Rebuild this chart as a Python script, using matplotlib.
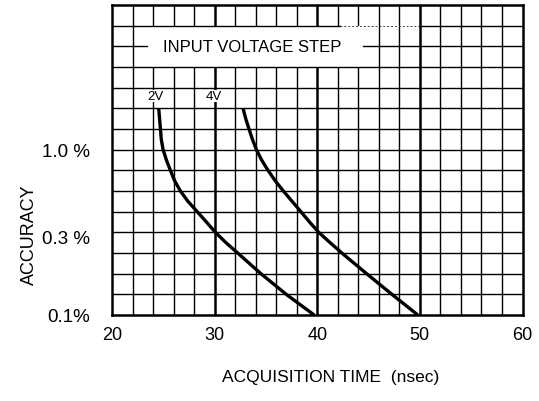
import matplotlib
matplotlib.use("Agg")
import matplotlib.pyplot as plt
from matplotlib.patches import Rectangle

plt.rcParams['font.family'] = ['Liberation Sans', 'DejaVu Sans']

# Data (acquisition time in nsec, accuracy in %)
time_2v = [24.55, 24.72, 24.8, 24.98, 25.3, 25.69, 26.1, 26.67, 27.4, 28.3, 29.2,
           30.08, 31.1, 32.25, 34.5, 37.0, 39.7]
acc_2v = [1.778, 1.334, 1.155, 1.0, 0.866, 0.750, 0.649, 0.562, 0.487, 0.422, 0.365,
          0.316, 0.274, 0.237, 0.178, 0.133, 0.1]
time_4v = [32.77, 33.03, 33.35, 33.68, 34.07, 34.58, 35.2, 35.9, 36.7, 37.55, 38.4,
           39.25, 40.15, 41.25, 42.4, 44.8, 47.3, 49.8]
acc_4v = [1.778, 1.540, 1.334, 1.155, 1.0, 0.866, 0.750, 0.649, 0.562, 0.487, 0.422,
          0.365, 0.316, 0.274, 0.237, 0.178, 0.133, 0.1]

x_ticks = [20, 30, 40, 50, 60]
y_ticks = [0.1, 0.3, 1.0]
y_ticklabels = ["0.1%", "0.3 %", "1.0 %"]
series_labels = ["2V", "4V"]

def row(r):
    return 0.1 * 10 ** (r / 8.0)

fig = plt.figure(figsize=(5.39, 4.02), dpi=100)
ax = fig.add_axes([112 / 539, 1 - 316 / 402, 410.5 / 539, 310 / 402])
ax.set_yscale('log')
ax.set_xlim(20, 60)
ax.set_ylim(row(0), row(15))

# grid
box_x0, box_x1 = 23.4, 44.5
for xv in range(22, 60, 2):
    lw = 1.8 if xv % 10 == 0 else 1.0
    ax.plot([xv, xv], [row(0), row(15)], color='black', lw=lw, zorder=1)
for r in range(1, 15):
    if r == 13:
        ax.plot([20, box_x0], [row(r), row(r)], color='black', lw=1.0, zorder=3)
        ax.plot([box_x1, 60], [row(r), row(r)], color='black', lw=1.0, zorder=3)
    elif r == 14:
        ax.plot([20, 42.2], [row(r), row(r)], color='black', lw=1.0, zorder=3)
        ax.plot([42.2, 50], [row(r), row(r)], color='#444444', lw=0.7, ls=(0, (2, 2)), zorder=3)
        ax.plot([50, 60], [row(r), row(r)], color='black', lw=1.0, zorder=3)
    else:
        ax.plot([20, 60], [row(r), row(r)], color='black', lw=1.0, zorder=3)

ax.add_patch(Rectangle((box_x0, row(12)), box_x1 - box_x0, row(14) - row(12),
                       facecolor='white', edgecolor='none', zorder=2))
ax.text(33.66, row(13), "INPUT VOLTAGE STEP", ha='center', va='center',
        fontsize=12, zorder=4)

# curves
ax.plot(time_2v, acc_2v, color='black', lw=2.4, zorder=5,
        solid_capstyle='butt', solid_joinstyle='round')
ax.plot(time_4v, acc_4v, color='black', lw=2.4, zorder=5,
        solid_capstyle='butt', solid_joinstyle='round')
ax.text(24.2, row(10.6), series_labels[0], ha='center', va='center', fontsize=9.5,
        zorder=6, bbox=dict(facecolor='white', edgecolor='none', pad=0.3))
ax.text(29.95, row(10.6), series_labels[1], ha='center', va='center', fontsize=9.5,
        zorder=6, bbox=dict(facecolor='white', edgecolor='none', pad=0.3))

ax.set_xticks(x_ticks)
ax.set_xticklabels([str(v) for v in x_ticks])
ax.set_yticks(y_ticks)
ax.set_yticklabels(y_ticklabels)
ax.yaxis.set_minor_locator(matplotlib.ticker.NullLocator())
ax.tick_params(axis='both', length=0)
ax.tick_params(axis='x', pad=8, labelsize=13)
ax.tick_params(axis='y', pad=16, labelsize=13.5)
for s in ax.spines.values():
    s.set_linewidth(1.8)
    s.set_zorder(7)

fig.text(331 / 539, 1 - 378 / 402, "ACQUISITION TIME  (nsec)", ha='center', va='center', fontsize=12.5)
fig.text(29 / 539, 1 - 235 / 402, "ACCURACY", ha='center', va='center', rotation=90, fontsize=13)

fig.savefig("out.png", dpi=100)
